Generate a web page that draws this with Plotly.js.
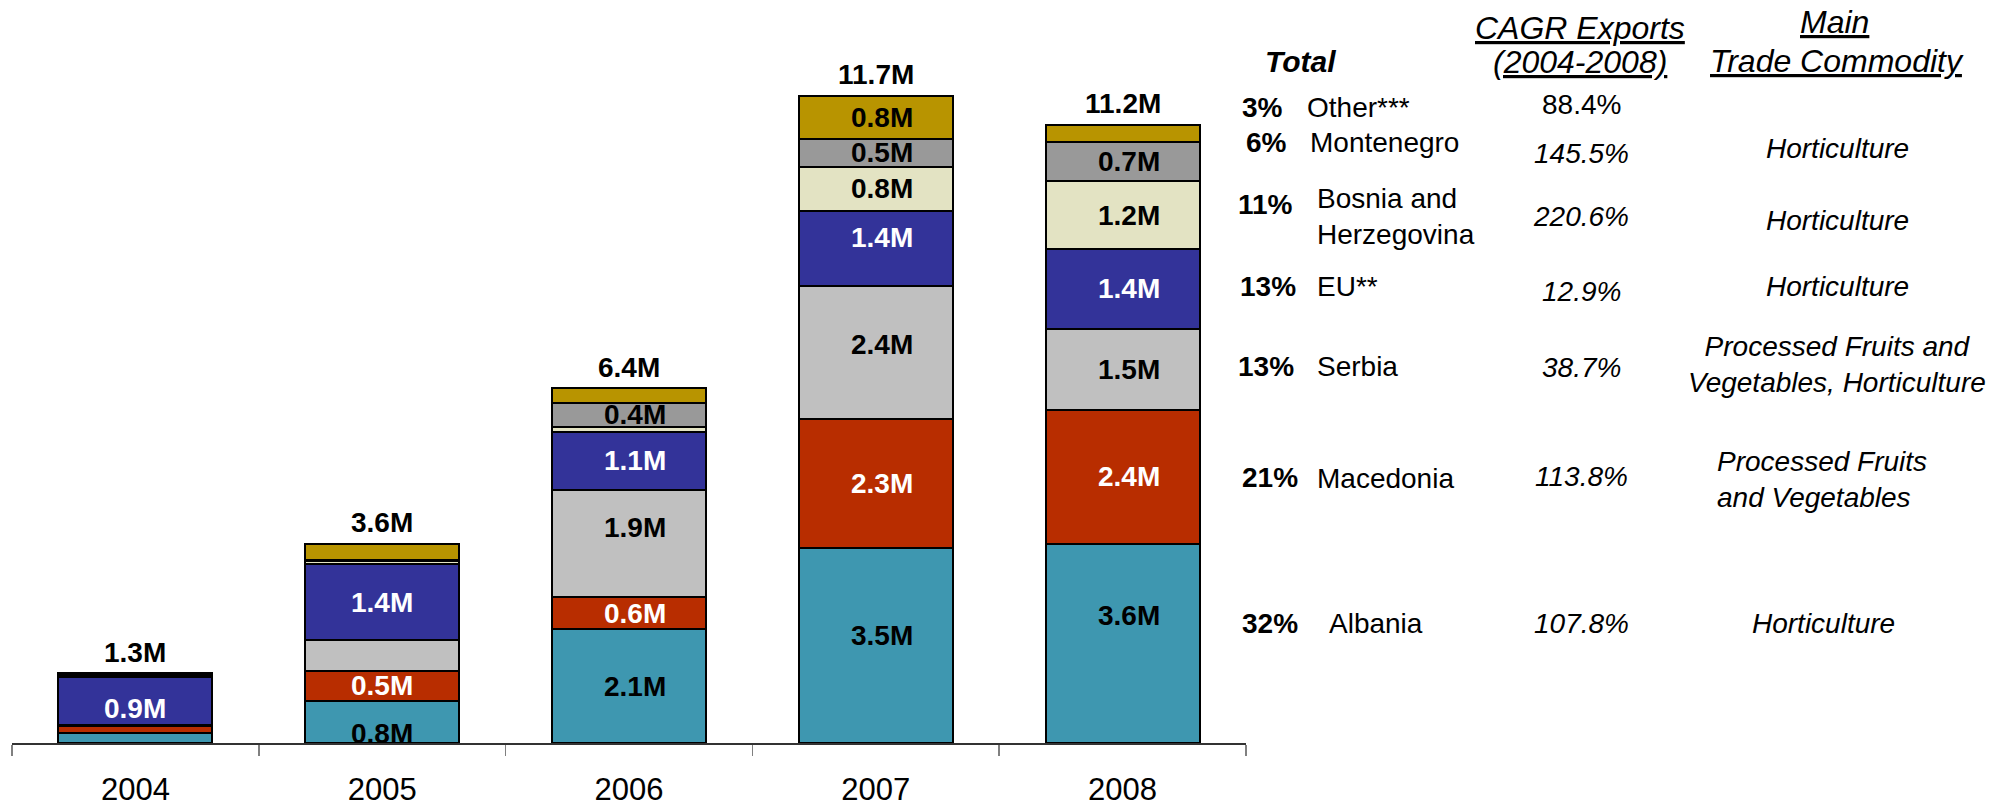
<!DOCTYPE html>
<html>
<head>
<meta charset="utf-8">
<script src="https://cdn.plot.ly/plotly-3.0.1.min.js"></script>
<style>
  html, body { margin: 0; padding: 0; background: #ffffff; }
  #chart { width: 1996px; height: 809px; }
</style>
</head>
<body>
<div id="chart"></div>
<script>
// ---------------- DATA ----------------
const years = ['2004', '2005', '2006', '2007', '2008'];

// export values, millions (stacked bottom -> top)
const albania    = [0.18, 0.77, 2.06, 3.53, 3.60];
const macedonia  = [0.12, 0.53, 0.58, 2.34, 2.44];
const serbia     = [0.03, 0.56, 1.94, 2.41, 1.47];
const eu         = [0.86, 1.38, 1.06, 1.36, 1.44];
const bosnia     = [0.02, 0.05, 0.09, 0.80, 1.23];
const montenegro = [0.02, 0.03, 0.43, 0.51, 0.71];
const other      = [0.03, 0.29, 0.27, 0.78, 0.31];

// which segments carry a value label
const albaniaShow    = [0, 1, 1, 1, 1];
const macedoniaShow  = [0, 1, 1, 1, 1];
const serbiaShow     = [0, 0, 1, 1, 1];
const euShow         = [1, 1, 1, 1, 1];
const bosniaShow     = [0, 0, 0, 1, 1];
const montenegroShow = [0, 0, 1, 1, 1];
const otherShow      = [0, 0, 0, 1, 0];

// right-hand table
const sharePct   = ['3%', '6%', '11%', '13%', '13%', '21%', '32%'];
const rowNames   = ['Other***', 'Montenegro', 'Bosnia and<br>Herzegovina', 'EU**', 'Serbia', 'Macedonia', 'Albania'];
const cagr       = ['88.4%', '145.5%', '220.6%', '12.9%', '38.7%', '113.8%', '107.8%'];
const commodity  = ['', 'Horticulture', 'Horticulture', 'Horticulture',
                    'Processed Fruits and<br>Vegetables, Horticulture',
                    'Processed Fruits<br>and Vegetables', 'Horticulture'];

// ---------------- STYLE ----------------
const FONT = 'Liberation Sans, Arial, Helvetica, sans-serif';
const series = [
  { name: 'Albania',               y: albania,    show: albaniaShow,    color: '#3E97B0', txt: '#000000' },
  { name: 'Macedonia',             y: macedonia,  show: macedoniaShow,  color: '#B82D00', txt: '#ffffff' },
  { name: 'Serbia',                y: serbia,     show: serbiaShow,     color: '#C0C0C0', txt: '#000000' },
  { name: 'EU**',                  y: eu,         show: euShow,         color: '#333399', txt: '#ffffff' },
  { name: 'Bosnia and Herzegovina',y: bosnia,     show: bosniaShow,     color: '#E3E3C3', txt: '#000000' },
  { name: 'Montenegro',            y: montenegro, show: montenegroShow, color: '#999999', txt: '#000000' },
  { name: 'Other***',              y: other,      show: otherShow,      color: '#B89400', txt: '#000000' }
];
// small vertical nudges (px) reproducing label placement in the source
const nudge = { 'Albania|2005': -12, 'Albania|2007': 10, 'Albania|2008': 28,
                'EU**|2004': -7, 'EU**|2007': 11, 'Serbia|2006': 16, 'Serbia|2007': 8 };

// geometry of plot area (px)
const M = { l: 12, r: 750, t: 20, b: 66 };
const W = 1996 - M.l - M.r, H = 809 - M.t - M.b;
const px = x => (x - M.l) / W;
const py = y => (809 - M.b - y) / H;

const traces = series.map(s => ({
  type: 'bar',
  name: s.name,
  x: years,
  y: s.y,
  marker: { color: s.color, line: { color: '#000000', width: 2 } },
  hoverinfo: 'none'
}));

const annotations = [];
const base = years.map(() => 0);
series.forEach(s => {
  s.y.forEach((v, i) => {
    if (s.show[i]) {
      annotations.push({
        xref: 'x', yref: 'y', x: i, y: base[i] + v / 2,
        text: '<b>' + v.toFixed(1) + 'M</b>', showarrow: false,
        xanchor: 'center', yanchor: 'middle',
        yshift: nudge[s.name + '|' + years[i]] || 0,
        xshift: i >= 2 ? 6 : 0,
        font: { family: FONT, size: 28, color: s.txt }
      });
    }
    base[i] += v;
  });
});
// totals
base.forEach((t, i) => {
  annotations.push({
    xref: 'x', yref: 'y', x: i, y: t,
    text: '<b>' + t.toFixed(1) + 'M</b>', showarrow: false,
    xanchor: 'center', yanchor: 'middle', yshift: 21,
    font: { family: FONT, size: 28, color: '#000000' }
  });
});

// table headers
function addText(text, x, y, size, anchor) {
  annotations.push({
    xref: 'paper', yref: 'paper', x: px(x), y: py(y), text: text,
    showarrow: false, xanchor: anchor || 'center', yanchor: 'middle',
    align: anchor === 'left' ? 'left' : 'center',
    font: { family: FONT, size: size, color: '#000000' }
  });
}
addText('<b><i>Total</i></b>', 1300, 61, 30);
addText('<i><u>CAGR Exports</u></i>', 1580, 28, 32);
addText('<i><u>(2004-2008)</u></i>', 1580, 62, 32);
addText('<i><u>Main</u></i>', 1834, 22, 32);
addText('<i><u>Trade Commodity</u></i>', 1837, 61, 32);

// table rows (layout positions)
const shareX = [1262, 1266, 1265, 1268, 1266, 1270, 1270];
const shareY = [107, 143, 205, 286, 367, 477, 623];
const nameX  = [1305, 1308, 1315, 1315, 1315, 1315, 1327];
const nameY  = [107, 143, 216, 286, 367, 478, 623];
const cagrY  = [104, 153, 216, 291, 368, 476, 623];
const comX   = [1837, 1837, 1837, 1837, 1837, 1715, 1823];
const comY   = [148, 148, 220, 286, 364, 479, 623];

for (let r = 0; r < sharePct.length; r++) {
  addText('<b>' + sharePct[r] + '</b>', shareX[r], shareY[r], 28);
  addText(rowNames[r], nameX[r], nameY[r], 28, 'left');
  addText(r === 0 ? cagr[r] : '<i>' + cagr[r] + '</i>', 1581, cagrY[r], 28);
  if (commodity[r]) addText('<i>' + commodity[r] + '</i>', comX[r], comY[r], 28, r === 5 ? 'left' : 'center');
}

const layout = {
  width: 1996, height: 809,
  margin: M,
  paper_bgcolor: '#ffffff', plot_bgcolor: '#ffffff',
  barmode: 'stack',
  bargap: 0.376,
  showlegend: false,
  font: { family: FONT, color: '#000000' },
  xaxis: {
    type: 'category',
    range: [-0.5, 4.5],
    tickson: 'boundaries',
    ticks: 'outside', ticklen: 11, tickwidth: 1.5, tickcolor: '#808080',
    showline: true, linecolor: '#333333', linewidth: 1.5,
    showgrid: false, zeroline: false,
    ticklabelstandoff: 18,
    tickfont: { family: FONT, size: 31, color: '#000000' }
  },
  yaxis: { range: [0, 13.1], visible: false, showgrid: false, zeroline: false },
  annotations: annotations
};

Plotly.newPlot('chart', traces, layout, { staticPlot: true, displayModeBar: false });
</script>
</body>
</html>
